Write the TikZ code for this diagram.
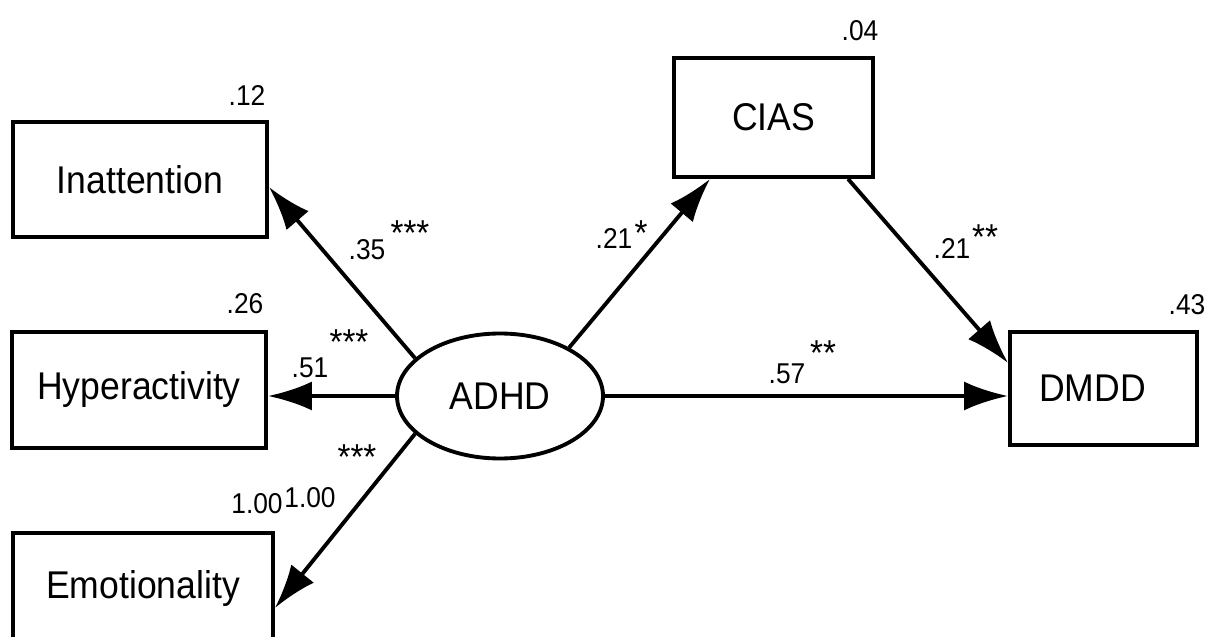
\documentclass[tikz,border=0pt]{standalone}
\usepackage{fontspec}
\setmainfont{Liberation Sans}[FakeStretch=0.92]
\usetikzlibrary{arrows.meta,shapes.geometric}

\begin{document}
\begin{tikzpicture}[
    measure/.style={draw,line width=2.2pt,inner sep=0pt,font=\fontsize{22}{26}\selectfont},
    coef/.style={inner sep=0pt,font=\fontsize{16.3}{19}\selectfont},
    stars/.style={inner sep=0pt,font=\fontsize{20.5}{24}\selectfont},
    effect/.style={line width=2.2pt,-{Latex[length=8.8mm,width=5.8mm]}}
  ]
    \useasboundingbox (0,0) rectangle (241.4mm,-127.4mm);

    \node[measure,minimum width=50.8mm,minimum height=23mm] (inatt) at (28mm,-35.9mm) {Inattention};
    \node[measure,minimum width=50.8mm,minimum height=23.2mm] (hyper) at (27.8mm,-78mm) {Hyperactivity};
    \node[measure,minimum width=52mm,minimum height=22.4mm] (emo) at (28.6mm,-117.8mm) {Emotionality};
    \node[measure,ellipse,minimum width=41.2mm,minimum height=25mm] (adhd) at (100mm,-79.2mm) {ADHD};
    \node[measure,minimum width=39.8mm,minimum height=23.8mm] (cias) at (154.7mm,-23.5mm) {CIAS};
    \node[measure,minimum width=37.4mm,minimum height=22.6mm] (dmdd) at (220.7mm,-77.7mm) {DMDD\hspace*{4.4mm}};

    \node[coef] (r2inatt) at (49.4mm,-19.2mm) {.12};
    \node[coef] (r2hyper) at (49mm,-60.8mm) {.26};
    \node[coef] (r2cias) at (172mm,-6.2mm) {.04};
    \node[coef] (r2dmdd) at (237.4mm,-61mm) {.43};

    \draw[effect] (adhd.156) -- ([yshift=-1.5mm]inatt.east);
    \draw[effect] (adhd.west) -- (adhd.west -| hyper.east);
    \draw[effect] (adhd.204) -- ([yshift=-3.8mm]emo.east);
    \draw[effect] (adhd.35) -- ([xshift=-12.7mm]cias.south);
    \draw[effect] ([xshift=14.9mm]cias.south) -- ([yshift=5.1mm]dmdd.west);
    \draw[effect] (adhd.east) -- (adhd.east -| dmdd.west);

    \node[coef] (binatt) at (73.4mm,-50mm) {.35};
    \node[stars] (sinatt) at (82mm,-46.6mm) {***};
    \node[coef] (bhyper) at (62mm,-73.6mm) {.51};
    \node[stars] (shyper) at (69.8mm,-68.4mm) {***};
    \node[stars] (semo) at (71.4mm,-91.4mm) {***};
    \node[coef] (bemo) at (51.4mm,-100.8mm) {1.00};
    \node[coef] (bemofix) at (62mm,-99.6mm) {1.00};
    \node[coef] (bcias) at (122.8mm,-47.8mm) {.21};
    \node[stars] (scias) at (128.2mm,-46.6mm) {*};
    \node[coef] (bdmdd) at (190.4mm,-49.8mm) {.21};
    \node[stars] (sdmdd) at (197mm,-47.4mm) {**};
    \node[coef] (bdirect) at (157.4mm,-74.8mm) {.57};
    \node[stars] (sdirect) at (164.6mm,-70.6mm) {**};
  \end{tikzpicture}
\end{document}
